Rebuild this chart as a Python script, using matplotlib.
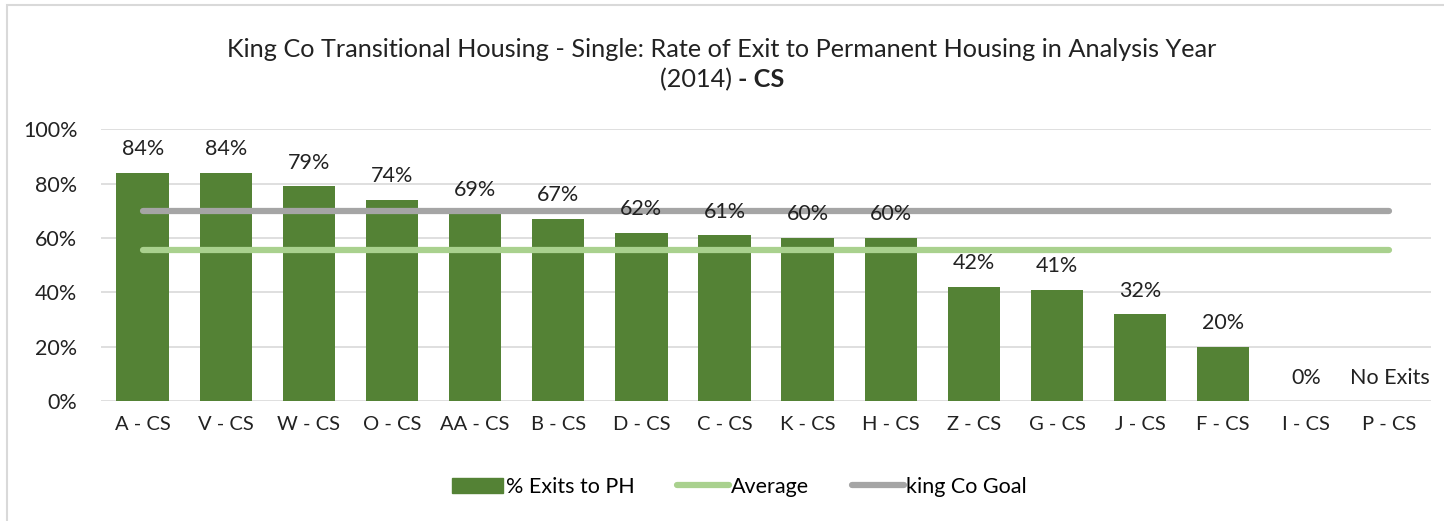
import numpy as np
import matplotlib
matplotlib.use("Agg")
import matplotlib.pyplot as plt
from matplotlib.patches import Rectangle, Patch
from matplotlib.lines import Line2D

plt.rcParams['font.family'] = ['Lato', 'DejaVu Sans']

categories = ["A - CS", "V - CS", "W - CS", "O - CS", "AA - CS", "B - CS", "D - CS",
              "C - CS", "K - CS", "H - CS", "Z - CS", "G - CS", "J - CS", "F - CS",
              "I - CS", "P - CS"]
exits = [84, 84, 79, 74, 69, 67, 62, 61, 60, 60, 42, 41, 32, 20, 0, np.nan]
labels = ["84%", "84%", "79%", "74%", "69%", "67%", "62%", "61%", "60%", "60%",
          "42%", "41%", "32%", "20%", "0%", "No Exits"]
average = 55.5
goal = 70

bar_col = "#548235"
avg_col = "#A9D18E"
goal_col = "#A5A5A5"
txt_col = "#222222"

fig = plt.figure(figsize=(14.44, 5.21), dpi=100)
ax = fig.add_axes([0.070, 0.230, 0.921, 0.522])

x = np.arange(len(categories))
vals = np.nan_to_num(np.array(exits, dtype=float))
ax.bar(x, vals, width=0.63, color=bar_col, zorder=2)
ax.plot(x, [goal] * len(x), color=goal_col, lw=4.5, solid_capstyle='round', zorder=3)
ax.plot(x, [average] * len(x), color=avg_col, lw=4.5, solid_capstyle='round', zorder=3)

for i, (v, lab) in enumerate(zip(vals, labels)):
    ax.text(i, v + 5, lab, ha='center', va='bottom', fontsize=15.5, color=txt_col)

ax.set_xlim(-0.5, len(categories) - 0.5)
ax.set_ylim(0, 100)
ax.set_yticks(np.arange(0, 101, 20))
ax.set_yticklabels([f"{t}%" for t in range(0, 101, 20)], fontsize=15.5, color=txt_col)
ax.set_xticks(x)
ax.set_xticklabels(categories, fontsize=14.5, color=txt_col)
ax.tick_params(length=0, pad=11)
ax.tick_params(axis='y', pad=17)
ax.grid(axis='y', color='#D9D9D9', lw=1.2, zorder=0)
for s in ax.spines.values():
    s.set_visible(False)

# title
fig.text(0.5, 0.905, "King Co Transitional Housing - Single: Rate of Exit to Permanent Housing in Analysis Year",
         ha='center', va='center', fontsize=18.2, color=txt_col)
t1 = fig.text(0.5, 0.848, "(2014) ", ha='right', va='center', fontsize=18.2, color=txt_col)
t2 = fig.text(0.5, 0.848, "- CS", ha='left', va='center', fontsize=18.2, fontweight='bold', color=txt_col)
fig.canvas.draw()
r = fig.canvas.get_renderer()
w1 = t1.get_window_extent(r).width / fig.bbox.width
w2 = t2.get_window_extent(r).width / fig.bbox.width
shift = (w1 - w2) / 2
t1.set_x(0.5 + shift)
t2.set_x(0.5 + shift)

handles = [Patch(color=bar_col),
           Line2D([0], [0], color=avg_col, lw=4.5, solid_capstyle='round'),
           Line2D([0], [0], color=goal_col, lw=4.5, solid_capstyle='round')]
fig.legend(handles, ["% Exits to PH", "Average", "king Co Goal"], loc='center',
           bbox_to_anchor=(0.512, 0.066), ncol=3, frameon=False, fontsize=15.5,
           handlelength=2.4, handletextpad=0.1, columnspacing=2.0)

fig.patches.append(Rectangle((0.005, -0.01), 1.1, 1.0, transform=fig.transFigure,
                             fill=False, edgecolor='#D9D9D9', lw=1.5))

fig.savefig("out.png", dpi=100)
